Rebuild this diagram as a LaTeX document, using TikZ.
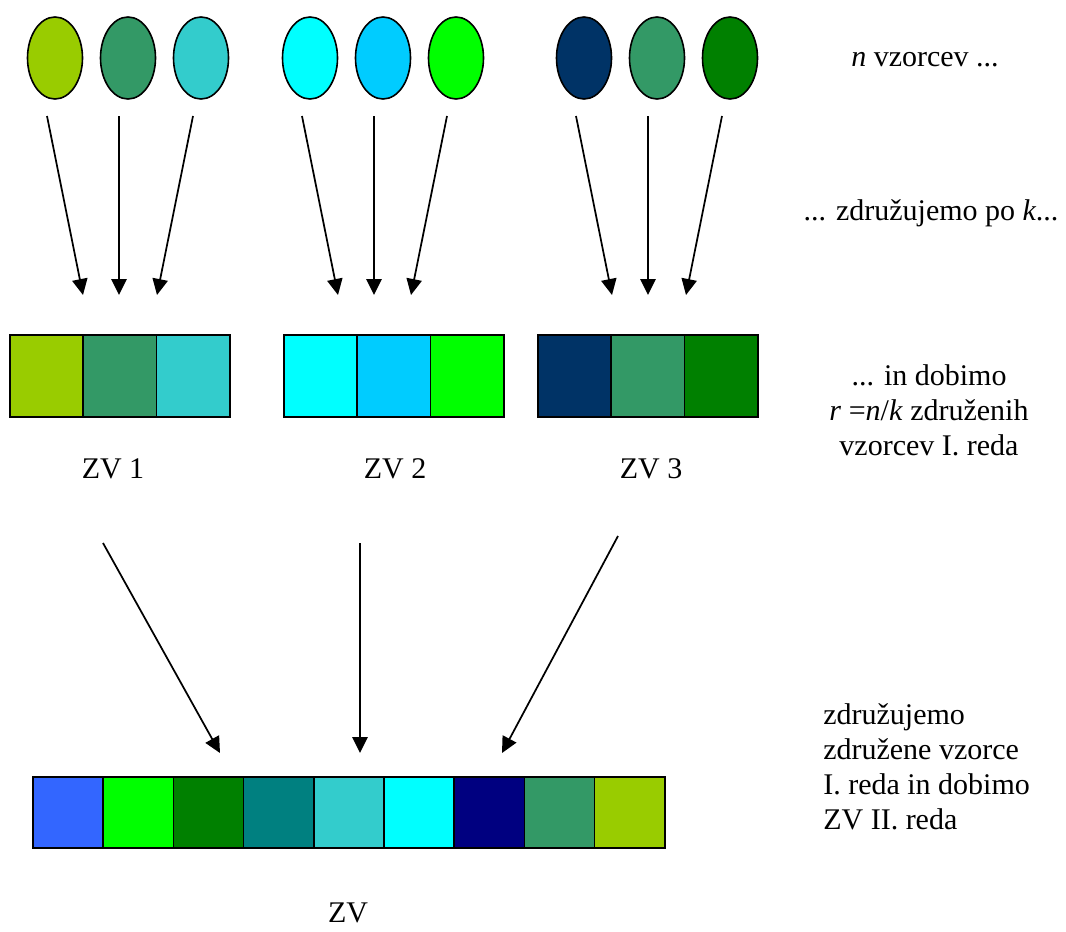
\documentclass[tikz,border=0pt]{standalone}
\usepackage{fontspec}
\setmainfont{Liberation Serif}
\usetikzlibrary{arrows.meta,shapes.geometric}
\definecolor{cYG}{HTML}{99CC00}
\definecolor{cSea}{HTML}{339966}
\definecolor{cTurq}{HTML}{33CCCC}
\definecolor{cCyan}{HTML}{00FFFF}
\definecolor{cSky}{HTML}{00CCFF}
\definecolor{cLime}{HTML}{00FF00}
\definecolor{cNavyD}{HTML}{003366}
\definecolor{cGreen}{HTML}{008000}
\definecolor{cBlue}{HTML}{3366FF}
\definecolor{cTeal}{HTML}{008080}
\definecolor{cNavy}{HTML}{000080}
\begin{document}
\begin{tikzpicture}[x=0.75pt,y=-0.75pt,
  ell/.style={ellipse,draw=black,line width=1.2pt,minimum width=41.25pt,minimum height=61.5pt,inner sep=0pt},
  sq/.style={rectangle,draw=black,line width=1.2pt,minimum width=55pt,minimum height=61.5pt,inner sep=0pt},
  bsq/.style={rectangle,draw=black,line width=1.3pt,minimum width=52.65pt,minimum height=53.25pt,inner sep=0pt},
  arr/.style={line width=1.3pt,-{Triangle[length=12pt,width=11.5pt]}},
  lbl/.style={font={\fontsize{22.5}{27}\selectfont},inner sep=0pt,anchor=base},
  blk/.style={font={\fontsize{22.5}{26.25}\selectfont},inner sep=0pt}
]
\useasboundingbox (0,0) rectangle (1066,931);
\clip (0,0) rectangle (1066,931);

% ellipses
\node[ell,fill=cYG]    (e1) at (55,58) {};
\node[ell,fill=cSea]   (e2) at (128,58) {};
\node[ell,fill=cTurq]  (e3) at (201,58) {};
\node[ell,fill=cCyan]  (e4) at (310,58) {};
\node[ell,fill=cSky]   (e5) at (383,58) {};
\node[ell,fill=cLime]  (e6) at (456,58) {};
\node[ell,fill=cNavyD] (e7) at (584,58) {};
\node[ell,fill=cSea]   (e8) at (657,58) {};
\node[ell,fill=cGreen] (e9) at (730,58) {};

% first-order bars
\node[sq,fill=cYG]    (s1) at (46.65,376) {};
\node[sq,fill=cSea]   (s2) at (119.95,376) {};
\node[sq,fill=cTurq]  (s3) at (193.25,376) {};
\node[sq,fill=cCyan]  (s4) at (320.65,376) {};
\node[sq,fill=cSky]   (s5) at (393.95,376) {};
\node[sq,fill=cLime]  (s6) at (467.25,376) {};
\node[sq,fill=cNavyD] (s7) at (574.65,376) {};
\node[sq,fill=cSea]   (s8) at (647.95,376) {};
\node[sq,fill=cGreen] (s9) at (721.25,376) {};

% second-order bar
\node[bsq,fill=cBlue]  (b1) at (68.1,812.5) {};
\node[bsq,fill=cLime]  (b2) at (138.3,812.5) {};
\node[bsq,fill=cGreen] (b3) at (208.5,812.5) {};
\node[bsq,fill=cTeal]  (b4) at (278.7,812.5) {};
\node[bsq,fill=cTurq]  (b5) at (348.9,812.5) {};
\node[bsq,fill=cCyan]  (b6) at (419.1,812.5) {};
\node[bsq,fill=cNavy]  (b7) at (489.3,812.5) {};
\node[bsq,fill=cSea]   (b8) at (559.5,812.5) {};
\node[bsq,fill=cYG]    (b9) at (629.7,812.5) {};

% arrow end points
\coordinate (a1s) at (47,116);  \coordinate (a1e) at (83,295);
\coordinate (a2s) at (119,116); \coordinate (a2e) at (119,295);
\coordinate (a3s) at (193,116); \coordinate (a3e) at (157,295);
\coordinate (a4s) at (302,116); \coordinate (a4e) at (338,295);
\coordinate (a5s) at (374,116); \coordinate (a5e) at (374,295);
\coordinate (a6s) at (447,116); \coordinate (a6e) at (411,295);
\coordinate (a7s) at (576,116); \coordinate (a7e) at (612,295);
\coordinate (a8s) at (648,116); \coordinate (a8e) at (648,295);
\coordinate (a9s) at (722,116); \coordinate (a9e) at (686,295);
\coordinate (c1s) at (103,543); \coordinate (c1e) at (220,753);
\coordinate (c2s) at (360,543); \coordinate (c2e) at (360,753);
\coordinate (c3s) at (618,536); \coordinate (c3e) at (502,753);

\foreach \i in {1,...,9} {\draw[arr] (a\i s) -- (a\i e);}
\foreach \i in {1,2,3} {\draw[arr] (c\i s) -- (c\i e);}

% labels
\node[lbl] (z1) at (113,478) {ZV 1};
\node[lbl] (z2) at (395,478) {ZV 2};
\node[lbl] (z3) at (651,478) {ZV 3};
\node[lbl] (z)  at (348,922) {ZV};

\node[lbl] (t1) at (925,66) {\textit{n} vzorcev ...};
\node[lbl] (t2) at (931,220) {... združujemo po \textit{k}...};
\node[blk,align=center,anchor=base] (t3) at (929,455)
  {... in dobimo\\ \textit{r} =\textit{n}/\textit{k} združenih\\ vzorcev I. reda};
\node[blk,align=left,anchor=base west] (t4) at (823,829)
  {združujemo\\ združene vzorce\\ I. reda in dobimo\\ ZV II. reda};
\end{tikzpicture}
\end{document}
